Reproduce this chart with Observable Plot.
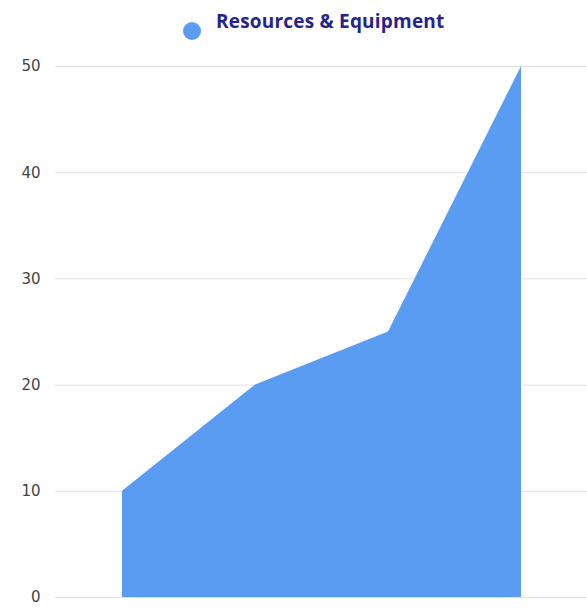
<!DOCTYPE html>
<html>
<head>
<meta charset="utf-8">
<script src="https://cdn.jsdelivr.net/npm/d3@7"></script>
<script src="https://cdn.jsdelivr.net/npm/@observablehq/plot@0.6"></script>
<style>
  body { margin: 0; background: #fff; font-family: "Noto Sans", sans-serif; }
  #legend { position: relative; height: 45px; width: 587px; }
  #legend .dot { position: absolute; left: 183px; top: 22px; width: 18px; height: 18px; border-radius: 50%; background: #5b9cf3; }
  #legend .label { position: absolute; left: 216px; top: 8px; font-family: "Open Sans", sans-serif; font-weight: 700; font-size: 19px; letter-spacing: 0.2px; color: #26238a; white-space: nowrap; }
</style>
</head>
<body>
<div id="legend"><span class="dot"></span><span class="label">Resources &amp; Equipment</span></div>
<div id="chart"></div>
<script>
const seriesName = "Resources & Equipment";
const categories = ["A", "B", "C", "D"];
const values = [10, 20, 25, 50];
const yTicks = [0, 10, 20, 30, 40, 50];

const data = categories.map((c, i) => ({ cat: c, value: values[i] }));

const chart = Plot.plot({
  width: 587,
  height: 563,
  marginTop: 21,
  marginBottom: 11,
  marginLeft: 55,
  marginRight: 0,
  style: { fontFamily: "DejaVu Sans, sans-serif", fontSize: "15px", color: "#444", background: "#fff" },
  x: { type: "point", domain: categories, padding: 0.5, axis: null },
  y: { domain: [0, 50], ticks: yTicks },
  marks: [
    Plot.gridY(yTicks, { stroke: "#e2e2e2", strokeOpacity: 1 }),
    Plot.areaY(data, { x: "cat", y: "value", fill: "#5b9cf3", fillOpacity: 1 }),
    Plot.axisY(yTicks, { tickSize: 0, tickPadding: 15, fill: "#444", fontSize: 15, label: null })
  ]
});
document.getElementById("chart").appendChild(chart);
</script>
</body>
</html>
